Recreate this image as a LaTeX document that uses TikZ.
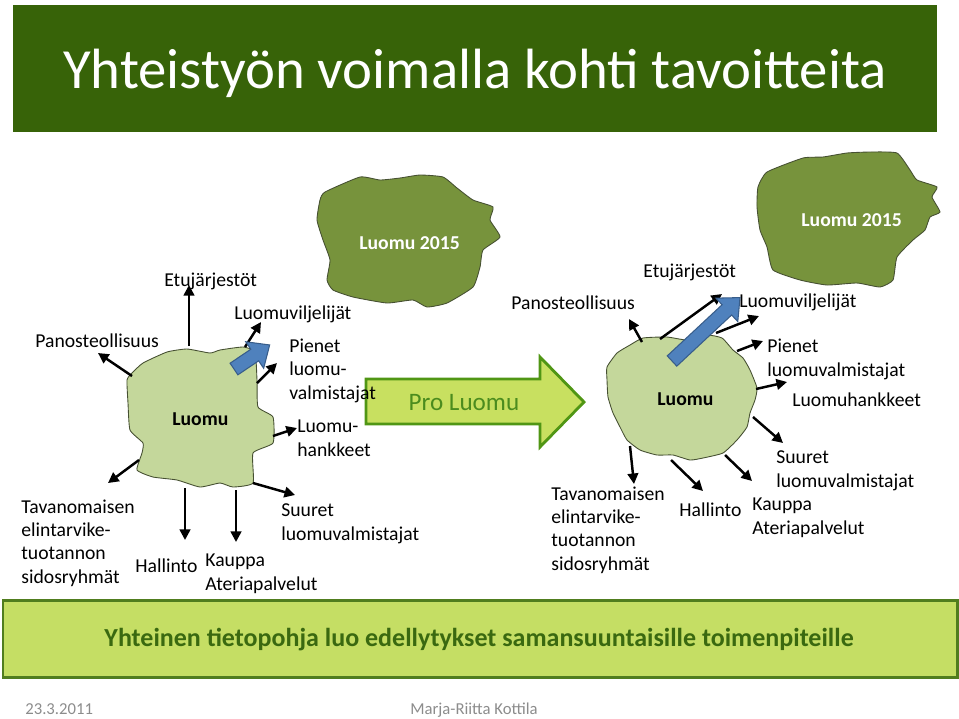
\documentclass[tikz,border=0pt]{standalone}
\usepackage{fontspec}
\setmainfont{Carlito}
\usetikzlibrary{arrows.meta,positioning,calc}

\definecolor{titlegreen}{RGB}{55,99,8}
\definecolor{barfill}{RGB}{197,222,100}
\definecolor{barline}{RGB}{80,125,30}
\definecolor{bartext}{RGB}{58,105,16}
\definecolor{blobfill}{RGB}{196,215,155}
\definecolor{goalfill}{RGB}{119,147,60}
\definecolor{blobline}{RGB}{70,80,50}
\definecolor{profill}{RGB}{200,224,96}
\definecolor{proline}{RGB}{80,150,20}
\definecolor{protext}{RGB}{75,140,30}
\definecolor{bluefill}{RGB}{79,129,189}
\definecolor{blueline}{RGB}{56,93,138}

% fat blue arrow: tail centre, angle, length
\newcommand{\fatarrow}[3]{%
  \begin{scope}[shift={#1},rotate=#2]
    \draw[bluearrow] (0,-7) -- (#3-18,-7) -- (#3-18,-16) -- (#3,0)
      -- (#3-18,16) -- (#3-18,7) -- (0,7) -- cycle;
  \end{scope}}

\begin{document}
\begin{tikzpicture}[x=0.02cm,y=-0.02cm,
    lbl/.style={font=\fontsize{11.2}{13.2}\selectfont,align=left,anchor=base west,inner sep=0pt},
    blobtxt/.style={font=\fontsize{11.2}{13.2}\selectfont\bfseries,anchor=base west,inner sep=0pt},
    goaltxt/.style={blobtxt,text=white},
    flow/.style={line width=1.4pt,-{Triangle[length=6pt,width=6pt]}},
    bluearrow/.style={fill=bluefill,draw=blueline,line width=0.6pt},
    blob/.style={fill=blobfill,draw=blobline,line width=0.5pt},
    goal/.style={fill=goalfill,draw=blobline,line width=0.5pt}]
    \useasboundingbox (0,0) rectangle (959,718);

    % Title bar
    \fill[titlegreen] (13,5) rectangle (937,132);
    \node[font=\fontsize{32.3}{38}\selectfont,text=white,anchor=base,inner sep=0pt] (title) at (475,88)
        {Yhteistyön voimalla kohti tavoitteita};

    % Blobs
    \draw[goal] plot[smooth cycle,tension=0.3] coordinates {(325,192) (360,177) (380,180) (400,178) (420,175)
        (443,177) (457,188) (473,200) (493,207) (490,220) (500,237) (483,250) (480,267) (473,287) (447,303)
        (427,307) (413,300) (387,303) (353,297) (333,290) (327,280) (330,260) (323,240) (317,220) (320,200)};
    \draw[goal] plot[smooth cycle,tension=0.3] coordinates {(767,172) (803,158) (823,157) (847,153) (870,152)
        (897,153) (910,170) (917,180) (937,187) (932,197) (940,212) (930,217) (925,230) (913,240) (897,257)
        (893,280) (880,287) (857,283) (827,285) (800,280) (773,270) (767,247) (760,230) (757,207) (758,187)};
    \draw[blob] plot[smooth cycle,tension=0.3] coordinates {(167,352) (187,349) (210,353) (220,350) (243,347)
        (255,352) (257,380) (258,407) (273,417) (273,443) (253,453) (253,483) (233,487) (220,483) (200,487)
        (177,480) (153,477) (137,470) (142,453) (143,443) (130,430) (128,403) (127,380) (132,373) (143,363)};
    \draw[blob] plot[smooth cycle,tension=0.3] coordinates {(643,338) (667,337) (687,340) (707,335) (722,338)
        (733,350) (743,358) (750,370) (757,388) (755,400) (750,413) (747,427) (737,440) (723,453) (703,458)
        (690,460) (673,455) (657,455) (640,450) (627,440) (620,427) (613,413) (608,397) (607,380) (607,367)
        (617,353) (630,345)};

    % Pro Luomu arrow
    \draw[fill=profill,draw=proline,line width=1.6pt] (366,379) -- (540,379) -- (540,357) -- (584,402)
        -- (540,447) -- (540,424) -- (366,424) -- cycle;
    \node[font=\fontsize{14.3}{17}\selectfont,text=protext,anchor=base,inner sep=0pt] (pro) at (464,410) {Pro Luomu};

    % Blob texts
    \node[goaltxt] (goalL) at (359,249) {Luomu 2015};
    \node[goaltxt] (goalR) at (801,226) {Luomu 2015};
    \node[blobtxt] (luomuL) at (172,425) {Luomu};
    \node[blobtxt] (luomuR) at (657,405) {Luomu};

    % Left labels (multi-line ones sit on their last line)
    \node[lbl] (lEtu) at (164,286) {Etujärjestöt};
    \node[lbl] (lPano) at (35,347) {Panosteollisuus};
    \node[lbl] (lViljel) at (234,319) {Luomuviljelijät};
    \node[lbl] (lPienet) at (289,399) {Pienet\\luomu-\\valmistajat};
    \node[lbl] (lHank) at (297,456) {Luomu-\\hankkeet};
    \node[lbl] (lSuuret) at (281,540) {Suuret\\luomuvalmistajat};
    \node[lbl] (lKauppa) at (205,590) {Kauppa\\Ateriapalvelut};
    \node[lbl] (lHall) at (135,572) {Hallinto};
    \node[lbl] (lTava) at (21,583) {Tavanomaisen\\elintarvike-\\tuotannon\\sidosryhmät};

    % Right labels
    \node[lbl] (rEtu) at (643,277) {Etujärjestöt};
    \node[lbl] (rPano) at (511,309) {Panosteollisuus};
    \node[lbl] (rViljel) at (739,307) {Luomuviljelijät};
    \node[lbl] (rPienet) at (767,376) {Pienet\\luomuvalmistajat};
    \node[lbl] (rHank) at (792,406) {Luomuhankkeet};
    \node[lbl] (rSuuret) at (776,487) {Suuret\\luomuvalmistajat};
    \node[lbl] (rKauppa) at (752,534) {Kauppa\\Ateriapalvelut};
    \node[lbl] (rHall) at (679,516) {Hallinto};
    \node[lbl] (rTava) at (551,570) {Tavanomaisen\\elintarvike-\\tuotannon\\sidosryhmät};

    % Flow end points
    \coordinate (lEtuA) at (189,346);   \coordinate (lEtuB) at (189,285);
    \coordinate (lPanoA) at (132,376);  \coordinate (lPanoB) at (98,353);
    \coordinate (lVilA) at (245,347);   \coordinate (lVilB) at (261,322);
    \coordinate (lPieA) at (257,383);   \coordinate (lPieB) at (277,363);
    \coordinate (lHanA) at (273,436);   \coordinate (lHanB) at (297,428);
    \coordinate (lSuuA) at (253,483);   \coordinate (lSuuB) at (295,495);
    \coordinate (lKauA) at (236,490);   \coordinate (lKauB) at (236,542);
    \coordinate (lHalA) at (185,488);   \coordinate (lHalB) at (185,540);
    \coordinate (lTavA) at (139,460);   \coordinate (lTavB) at (108,483);
    \coordinate (rPanoA) at (642,342);  \coordinate (rPanoB) at (629,319);
    \coordinate (rEtuA) at (660,339);   \coordinate (rEtuB) at (722,294);
    \coordinate (rVilA) at (716,333);   \coordinate (rVilB) at (759,316);
    \coordinate (rPieA) at (737,351);   \coordinate (rPieB) at (763,341);
    \coordinate (rHanA) at (756,389);   \coordinate (rHanB) at (787,382);
    \coordinate (rSuuA) at (753,417);   \coordinate (rSuuB) at (783,443);
    \coordinate (rKauA) at (725,455);   \coordinate (rKauB) at (752,481);
    \coordinate (rHalA) at (671,460);   \coordinate (rHalB) at (703,491);
    \coordinate (rTavA) at (630,446);   \coordinate (rTavB) at (634,484);

    % Flows
    \foreach \f in {lEtu,lPano,lVil,lPie,lHan,lSuu,lKau,lHal,lTav,
                    rPano,rEtu,rVil,rPie,rHan,rSuu,rKau,rHal,rTav}
        \draw[flow] (\f A) -- (\f B);

    % Blue arrows
    \fatarrow{(234,369)}{34}{43}
    \fatarrow{(672,361)}{43}{93}

    % Bottom bar
    \draw[fill=barfill,draw=barline,line width=1.7pt] (3,600) rectangle (957,677);
    \node[font=\fontsize{14.8}{18}\selectfont\bfseries,text=bartext,anchor=base,inner sep=0pt] (bottom) at (479,646)
        {Yhteinen tietopohja luo edellytykset samansuuntaisille toimenpiteille};

    % Footer
    \node[font=\fontsize{9.5}{11}\selectfont,text=black!45,anchor=base west,inner sep=0pt] (date) at (25,714) {23.3.2011};
    \node[font=\fontsize{9.5}{11}\selectfont,text=black!45,anchor=base west,inner sep=0pt] (author) at (410,714) {Marja-Riitta Kottila};
\end{tikzpicture}
\end{document}
